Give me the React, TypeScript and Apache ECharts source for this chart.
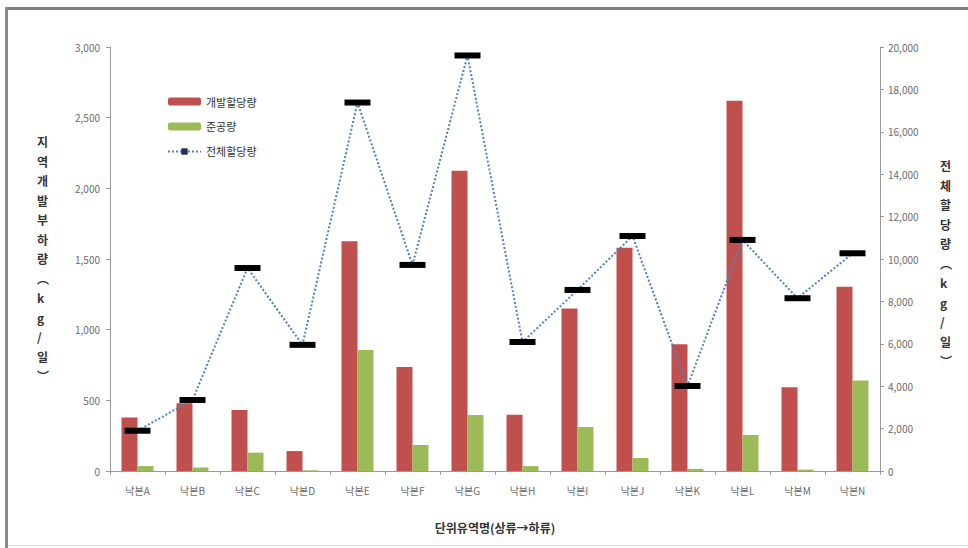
import React, { useEffect, useRef } from "react";
import * as echarts from "echarts";

// Sub-basins, ordered upstream → downstream
const categories = [
  "낙본A", "낙본B", "낙본C", "낙본D", "낙본E", "낙본F", "낙본G",
  "낙본H", "낙본I", "낙본J", "낙본K", "낙본L", "낙본M", "낙본N",
];

// 개발할당량 (kg/일), left axis
const developmentLoad = [378, 480, 432, 141, 1625, 735, 2125, 398, 1150, 1580, 896, 2620, 592, 1304];

// 준공량 (kg/일), left axis
const completedLoad = [35, 25, 130, 5, 856, 184, 396, 35, 311, 92, 15, 255, 10, 640];

// 전체할당량 (kg/일), right axis
const totalAllocation = [1900, 3350, 9575, 5950, 17380, 9720, 19600, 6085, 8540, 11085, 4010, 10900, 8150, 10270];

const leftTitle = "지역개발부하량︵kg/일︶";
const rightTitle = "전체할당량︵kg/일︶";
const xTitle = "단위유역명(상류→하류)";

const KFONT = "'Noto Sans CJK KR', 'Noto Sans', sans-serif";
const labelGray = "#6b6b6b";
const axisGray = "#9a9a9a";

const stack = (s: string) => Array.from(s).join("\n");

export default function App() {
  const ref = useRef<HTMLDivElement>(null);

  useEffect(() => {
    document.body.style.margin = "0";
    const chart = echarts.init(ref.current!, undefined, { renderer: "svg" });
    chart.setOption({
      animation: false,
      backgroundColor: "#ffffff",
      textStyle: { fontFamily: KFONT },
      grid: { left: 110, right: 88, top: 47, bottom: 77, containLabel: false },
      legend: {
        orient: "vertical",
        left: 162,
        top: 91,
        itemWidth: 33,
        itemHeight: 8,
        itemGap: 14,
        textStyle: { fontSize: 11, color: "#333", fontFamily: KFONT },
        data: [
          { name: "개발할당량" },
          { name: "준공량" },
          { name: "전체할당량", itemStyle: { color: "#1f2f4f" } },
        ],
      },
      xAxis: {
        type: "category",
        data: categories,
        name: xTitle,
        nameLocation: "middle",
        nameGap: 50,
        nameTextStyle: { fontSize: 12, fontWeight: "bold", color: "#333", fontFamily: KFONT },
        axisLine: { lineStyle: { color: axisGray } },
        axisTick: { show: true, length: 4, lineStyle: { color: axisGray } },
        axisLabel: { fontSize: 10, color: labelGray, margin: 14, fontFamily: KFONT },
        splitLine: { show: false },
      },
      yAxis: [
        {
          type: "value",
          min: 0,
          max: 3000,
          interval: 500,
          axisLine: { show: true, lineStyle: { color: axisGray } },
          axisTick: { show: true, length: 4, lineStyle: { color: axisGray } },
          axisLabel: {
            fontSize: 10,
            color: labelGray,
            margin: 10,
            formatter: (v: number) => v.toLocaleString("en-US"),
          },
          splitLine: { show: false },
        },
        {
          type: "value",
          min: 0,
          max: 20000,
          interval: 2000,
          position: "right",
          axisLine: { show: true, lineStyle: { color: axisGray } },
          axisTick: { show: true, length: 4, lineStyle: { color: axisGray } },
          axisLabel: {
            fontSize: 10,
            color: labelGray,
            margin: 8,
            formatter: (v: number) => v.toLocaleString("en-US"),
          },
          splitLine: { show: false },
        },
      ],
      series: [
        {
          name: "개발할당량",
          type: "bar",
          data: developmentLoad,
          barWidth: 16,
          barGap: "0%",
          itemStyle: { color: "#c0504d" },
        },
        {
          name: "준공량",
          type: "bar",
          data: completedLoad,
          barWidth: 16,
          barGap: "0%",
          itemStyle: { color: "#9bbb59" },
        },
        {
          name: "전체할당량",
          type: "line",
          yAxisIndex: 1,
          data: totalAllocation,
          symbol: "rect",
          symbolSize: [26, 6],
          itemStyle: { color: "#000000" },
          lineStyle: { color: "#4f81bd", width: 2, type: [2, 2] },
          z: 5,
        },
      ],
      graphic: [
        // window frame
        { type: "rect", shape: { x: 5, y: 7, width: 970, height: 3 }, style: { fill: "#7f7f7f" }, silent: true },
        { type: "rect", shape: { x: 5, y: 7, width: 3, height: 545 }, style: { fill: "#8a8a8a" }, silent: true },
        { type: "rect", shape: { x: 8, y: 545, width: 960, height: 1 }, style: { fill: "#dcdcdc" }, silent: true },
        // stacked vertical axis titles
        {
          type: "text",
          left: 37,
          top: 132,
          style: {
            text: stack(leftTitle),
            lineHeight: 19.5,
            fill: "#333",
            align: "center",
            font: `bold 12px ${KFONT}`,
          },
        },
        {
          type: "text",
          left: 940,
          top: 156,
          style: {
            text: stack(rightTitle),
            lineHeight: 19.5,
            fill: "#333",
            align: "center",
            font: `bold 12px ${KFONT}`,
          },
        },
      ],
    });
    return () => chart.dispose();
  }, []);

  return <div ref={ref} style={{ width: 968, height: 548 }} />;
}
